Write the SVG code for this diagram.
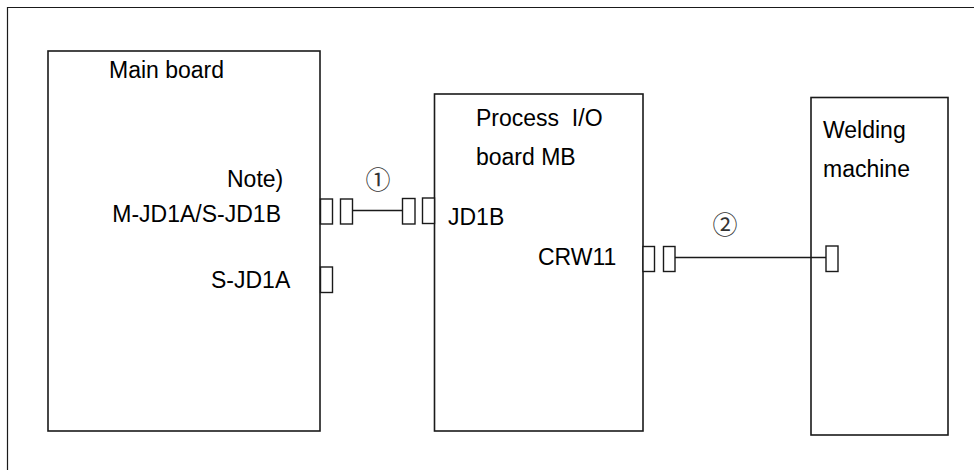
<svg xmlns="http://www.w3.org/2000/svg" width="974" height="470" viewBox="0 0 974 470">
<style>
.box{fill:#fff;stroke:#1a1a1a;stroke-width:1.6}
.conn{fill:#fff;stroke:#1a1a1a;stroke-width:1.4}
.wire{stroke:#1a1a1a;stroke-width:1.4;fill:none}
.t{font-family:"Liberation Sans",Arial,sans-serif;font-size:23px;fill:#000;white-space:pre}
.c{font-family:"Noto Sans CJK JP","DejaVu Sans",sans-serif;font-size:25px;fill:#333;text-anchor:middle;dominant-baseline:central}
</style>
<rect x="0" y="0" width="974" height="470" fill="#fff"/>
<path d="M7.5,470 V7.5 H974" fill="none" stroke="#1a1a1a" stroke-width="1.2"/>
<g id="main-board">
<rect class="box" x="48" y="51" width="272" height="380"/>
<text class="t" x="109" y="78">Main board</text>
<text class="t" x="227" y="187">Note)</text>
<text class="t" x="281" y="222" text-anchor="end">M-JD1A/S-JD1B</text>
<text class="t" x="211" y="288">S-JD1A</text>
</g>
<g id="process-io-board">
<rect class="box" x="434.5" y="94" width="208.5" height="337"/>
<text class="t" x="476" y="126" xml:space="preserve">Process  I/O</text>
<text class="t" x="476" y="165">board MB</text>
<text class="t" x="448" y="225">JD1B</text>
<text class="t" x="538" y="265">CRW11</text>
</g>
<g id="welding-machine">
<rect class="box" x="811" y="97.5" width="137" height="337.5"/>
<text class="t" x="823" y="138">Welding</text>
<text class="t" x="823" y="177">machine</text>
</g>
<g id="connectors">
<rect class="conn" x="320.5" y="199" width="12" height="25"/>
<rect class="conn" x="340.5" y="199" width="12" height="25"/>
<line class="wire" x1="352.5" y1="210.5" x2="402.5" y2="210.5"/>
<rect class="conn" x="402.5" y="198.5" width="12.5" height="25.5"/>
<rect class="conn" x="422.5" y="198" width="12" height="25.5"/>
<text class="c" x="378" y="178">①</text>
<rect class="conn" x="320.5" y="267" width="12" height="25.5"/>
<rect class="conn" x="643" y="246.5" width="11.5" height="25"/>
<rect class="conn" x="663.5" y="246.5" width="11.5" height="25"/>
<line class="wire" x1="675" y1="257.5" x2="826" y2="257.5"/>
<rect class="conn" x="826" y="246" width="12" height="25.5"/>
<text class="c" x="725" y="223">②</text>
</g>
</svg>
